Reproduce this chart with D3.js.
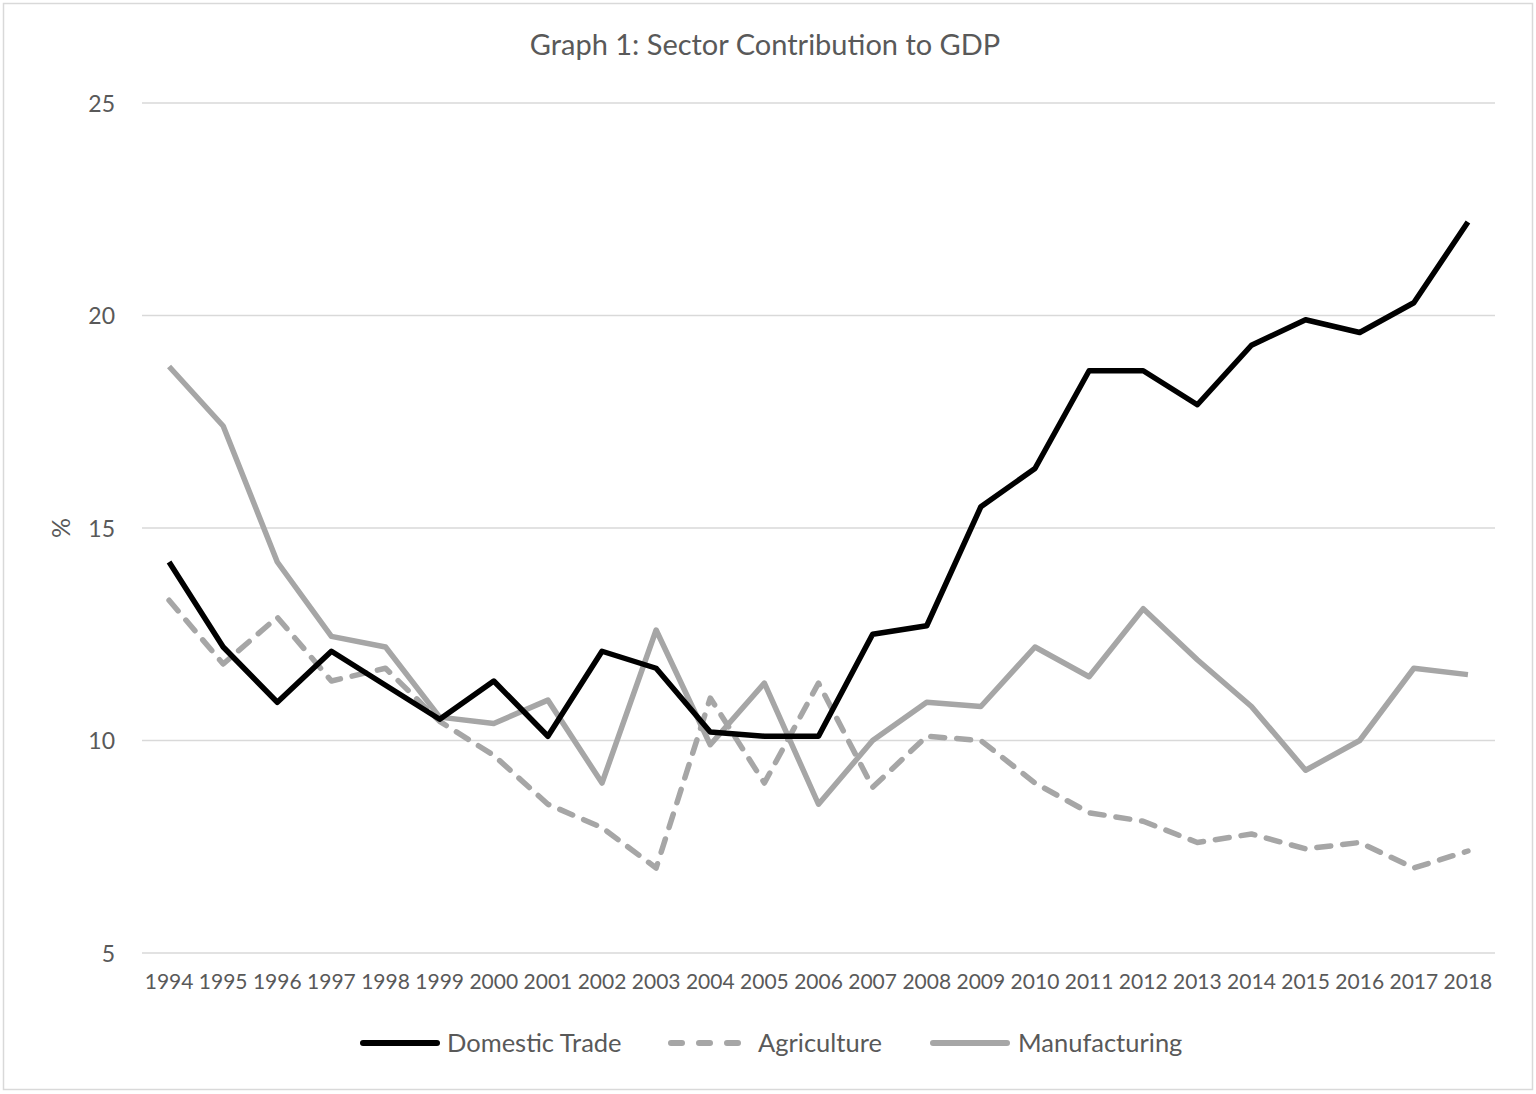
<!DOCTYPE html>
<html>
<head>
<meta charset="utf-8">
<script src="https://cdn.jsdelivr.net/npm/d3@7"></script>
<style>
  body { margin: 0; background: #fff; }
  svg text { font-family: Lato, "Open Sans", sans-serif; fill: #595959; }
</style>
</head>
<body>
<div id="chart"></div>
<script>
// Data
const years = ["1994","1995","1996","1997","1998","1999","2000","2001","2002","2003","2004","2005",
    "2006","2007","2008","2009","2010","2011","2012","2013","2014","2015","2016","2017","2018"];
const domesticTrade = [14.2,12.2,10.9,12.1,11.3,10.5,11.4,10.1,12.1,11.7,10.2,10.1,
    10.1,12.5,12.7,15.5,16.4,18.7,18.7,17.9,19.3,19.9,19.6,20.3,22.2];
const agriculture = [13.3,11.8,12.9,11.4,11.7,10.45,9.65,8.5,7.95,7.0,11.0,9.0,
    11.35,8.9,10.1,10.0,9.0,8.3,8.1,7.6,7.8,7.45,7.6,7.0,7.4];
const manufacturing = [18.8,17.4,14.2,12.45,12.2,10.55,10.4,10.95,9.0,12.6,9.9,11.35,
    8.5,10.0,10.9,10.8,12.2,11.5,13.1,11.9,10.8,9.3,10.0,11.7,11.55];
const yTicks = [5, 10, 15, 20, 25];

const series = [
    {name: "Domestic Trade", values: domesticTrade, color: "#000000", dash: null},
    {name: "Agriculture", values: agriculture, color: "#a6a6a6", dash: "14,12"},
    {name: "Manufacturing", values: manufacturing, color: "#a6a6a6", dash: null}
];

let W = 1536, H = 1094;
let margin = {top: 103, right: 41, bottom: 141, left: 142},
    width = W - margin.left - margin.right,
    height = H - margin.top - margin.bottom;

let svg = d3.select("#chart").append("svg")
    .attr("width", W).attr("height", H);

//Outer border
svg.append("rect").attr("x", 3.5).attr("y", 3.5)
    .attr("width", W - 7).attr("height", H - 8)
    .attr("fill", "#fff").attr("stroke", "#d9d9d9").attr("stroke-width", 1.5);

//Title
svg.append("text").attr("x", 765).attr("y", 55)
    .attr("text-anchor", "middle").style("font-size", "29px")
    .text("Graph 1: Sector Contribution to GDP");

let g = svg.append("g").attr("transform", "translate(" + margin.left + "," + margin.top + ")");

let x = d3.scaleBand().domain(years).range([0, width]);
let y = d3.scaleLinear().domain([5, 25]).range([height, 0]);

//Gridlines
g.selectAll(".grid").data(yTicks).enter().append("line")
    .attr("x1", 0).attr("x2", width)
    .attr("y1", d => y(d)).attr("y2", d => y(d))
    .attr("stroke", "#d9d9d9").attr("stroke-width", 1.5);

//Y axis labels
let yAxis = d3.axisLeft(y).tickValues(yTicks).tickSize(0).tickPadding(27);
g.append("g").attr("class", "y-axis").call(yAxis)
    .call(s => s.select(".domain").remove())
    .selectAll("text").style("font-size", "23px").attr("dy", "0.35em");

//X axis labels
let xAxis = d3.axisBottom(x).tickSize(0).tickPadding(21);
g.append("g").attr("class", "x-axis").attr("transform", "translate(0," + height + ")").call(xAxis)
    .call(s => s.select(".domain").remove())
    .selectAll("text").style("font-size", "21px");

//Y axis title
svg.append("text").attr("transform", "translate(70," + (margin.top + height / 2) + ") rotate(-90)")
    .attr("text-anchor", "middle").style("font-size", "25px").text("%");

//Lines
let line = d3.line().x((d, i) => x(years[i]) + x.bandwidth() / 2).y(d => y(d));
series.slice().reverse().forEach(s => {
    g.append("path").datum(s.values)
        .attr("d", line)
        .attr("fill", "none")
        .attr("stroke", s.color)
        .attr("stroke-width", 5.5)
        .attr("stroke-linejoin", "round")
        .attr("stroke-linecap", s.dash ? "round" : "butt")
        .attr("stroke-dasharray", s.dash);
});

//Legend
let legendPos = [
    {lx: 360, tx: 447},
    {lx: 668, tx: 758},
    {lx: 930, tx: 1018}
];
let legend = svg.append("g").attr("transform", "translate(0,1043)");
series.forEach((s, i) => {
    legend.append("line")
        .attr("x1", legendPos[i].lx + 3).attr("x2", legendPos[i].lx + 77)
        .attr("y1", 0).attr("y2", 0)
        .attr("stroke", s.color).attr("stroke-width", 6)
        .attr("stroke-linecap", "round")
        .attr("stroke-dasharray", s.dash ? "11,17" : null);
    legend.append("text").attr("x", legendPos[i].tx).attr("y", 0).attr("dy", "0.35em")
        .style("font-size", "25.5px").text(s.name);
});
</script>
</body>
</html>
